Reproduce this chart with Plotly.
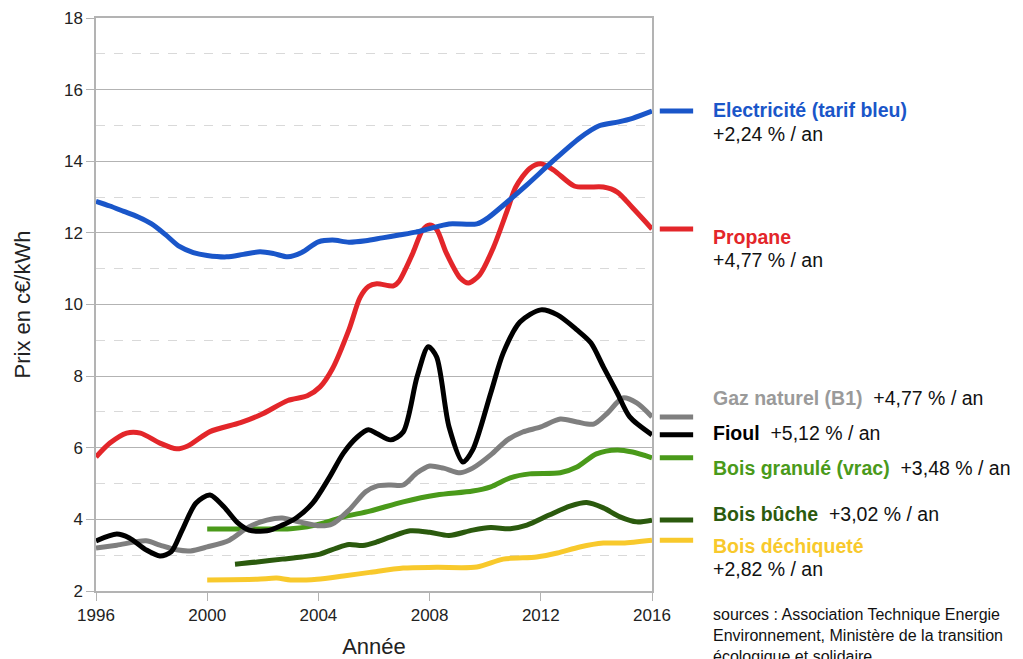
import plotly.graph_objects as go

# ---- data ----
elec_x = [1996, 1996.5, 1997, 1997.5, 1998, 1998.5, 1999, 1999.5, 2000, 2000.7, 2001.3, 2001.9, 2002.4, 2002.9,
          2003.4, 2004.0, 2004.5, 2005.1, 2005.7, 2006.3, 2006.9, 2007.5, 2008.0, 2008.7, 2009.7, 2010.1, 2010.8,
          2011.5, 2012.4, 2013.4, 2014.1, 2014.8, 2015.3, 2016]
elec_y = [12.88, 12.75, 12.6, 12.45, 12.25, 11.95, 11.62, 11.45, 11.37, 11.33, 11.4, 11.47, 11.42, 11.33,
          11.45, 11.75, 11.8, 11.74, 11.78, 11.86, 11.94, 12.02, 12.12, 12.25, 12.25, 12.42, 12.87,
          13.34, 13.98, 14.65, 14.99, 15.1, 15.2, 15.4]

prop_x = [1996, 1996.5, 1997.1, 1997.6, 1998.3, 1998.9, 1999.3, 2000.1, 2001.2, 2002.0, 2002.9, 2003.6, 2004.06,
          2004.5, 2005.1, 2005.5, 2005.8, 2006.1, 2006.7, 2006.9, 2007.4, 2007.75, 2008.0, 2008.25, 2008.6,
          2009.1, 2009.4, 2009.8, 2010.3, 2010.8, 2011.1, 2011.6, 2012.0, 2012.45, 2013.2, 2013.7, 2014.25,
          2014.75, 2015.3, 2016]
prop_y = [5.74, 6.13, 6.41, 6.41, 6.13, 5.97, 6.05, 6.45, 6.7, 6.95, 7.32, 7.45, 7.7,
          8.2, 9.3, 10.2, 10.5, 10.58, 10.52, 10.65, 11.44, 12.08, 12.22, 12.1, 11.44,
          10.74, 10.6, 10.83, 11.6, 12.64, 13.28, 13.8, 13.93, 13.76, 13.31, 13.28, 13.28,
          13.14, 12.7, 12.11]

fioul_x = [1996, 1996.75, 1997.2, 1997.8, 1998.3, 1998.7, 1999.1, 1999.6, 2000.1, 2000.6, 2001.1, 2001.5, 2002.15,
           2002.7, 2003.2, 2003.8, 2004.4, 2004.9, 2005.4, 2005.8, 2006.1, 2006.6, 2007.05, 2007.55, 2007.95,
           2008.25, 2008.7, 2009.2, 2009.55, 2010.2, 2010.65, 2011.25, 2012.0, 2012.6, 2013.3, 2013.8, 2014.25,
           2014.75, 2015.2, 2016]
fioul_y = [3.4, 3.59, 3.48, 3.15, 2.98, 3.09, 3.7, 4.46, 4.68, 4.35, 3.9, 3.7, 3.68,
           3.84, 4.04, 4.46, 5.18, 5.85, 6.3, 6.5, 6.4, 6.22, 6.44, 7.98, 8.82,
           8.54, 6.58, 5.6, 5.94, 7.53, 8.65, 9.51, 9.85, 9.71, 9.29, 8.93, 8.26,
           7.53, 6.86, 6.36]

gaz_x = [1996, 1996.75, 1997.8, 1998.3, 1998.9, 1999.4, 2000.0, 2000.8, 2001.5, 2002.15, 2002.7, 2003.3, 2004.06,
         2004.5, 2005.1, 2005.7, 2006.1, 2006.6, 2007.05, 2007.55, 2008.0, 2008.5, 2009.1, 2009.55, 2010.2,
         2010.8, 2011.35, 2012.0, 2012.7, 2013.3, 2013.9, 2014.4, 2014.95, 2015.45, 2016]
gaz_y = [3.2, 3.28, 3.4, 3.28, 3.15, 3.12, 3.23, 3.42, 3.79, 3.98, 4.04, 3.93, 3.82,
         3.87, 4.26, 4.77, 4.93, 4.96, 4.96, 5.3, 5.49, 5.43, 5.3, 5.43, 5.8,
         6.22, 6.44, 6.58, 6.8, 6.72, 6.66, 6.97, 7.39, 7.25, 6.86]

gran_x = [2000, 2001, 2002, 2003.0, 2003.6, 2004.2, 2004.9, 2005.85, 2007.05, 2008.25, 2009.55, 2010.2, 2010.9,
          2011.6, 2012.7, 2013.3, 2014.0, 2014.75, 2015.3, 2016]
gran_y = [3.73, 3.73, 3.73, 3.74, 3.79, 3.9, 4.07, 4.23, 4.49, 4.68, 4.79, 4.91, 5.16,
          5.27, 5.3, 5.46, 5.83, 5.94, 5.88, 5.72]

buche_x = [2001, 2001.8, 2002.7, 2003.4, 2004.06, 2004.65, 2005.1, 2005.6, 2006.1, 2006.6, 2007.3, 2008.0, 2008.7,
           2009.55, 2010.2, 2010.9, 2011.5, 2012.3, 2013.05, 2013.65, 2014.25, 2014.85, 2015.45, 2016]
buche_y = [2.75, 2.81, 2.89, 2.95, 3.03, 3.2, 3.3, 3.27, 3.37, 3.51, 3.68, 3.64, 3.55,
           3.7, 3.77, 3.74, 3.84, 4.12, 4.37, 4.47, 4.32, 4.07, 3.93, 3.98]

dech_x = [2000, 2001.8, 2002.5, 2003.0, 2003.95, 2004.9, 2005.85, 2007.05, 2008.25, 2009.7, 2010.65, 2011.85,
          2012.6, 2013.4, 2014.25, 2014.95, 2016]
dech_y = [2.31, 2.33, 2.36, 2.31, 2.33, 2.42, 2.52, 2.64, 2.66, 2.67, 2.89, 2.95,
          3.06, 3.23, 3.34, 3.34, 3.42]

x_ticks = [1996, 2000, 2004, 2008, 2012, 2016]
y_ticks = [2, 4, 6, 8, 10, 12, 14, 16, 18]

FONT = "Liberation Sans, Arial, sans-serif"

series = [
    ("Electricité (tarif bleu)", elec_x, elec_y, "#1a56c9"),
    ("Propane", prop_x, prop_y, "#e3262a"),
    ("Gaz naturel (B1)", gaz_x, gaz_y, "#7f7f7f"),
    ("Fioul", fioul_x, fioul_y, "#000000"),
    ("Bois granulé (vrac)", gran_x, gran_y, "#4a9a1a"),
    ("Bois bûche", buche_x, buche_y, "#2b5a0e"),
    ("Bois déchiqueté", dech_x, dech_y, "#f8c92c"),
]

fig = go.Figure()
order = [6, 5, 4, 2, 3, 1, 0]
for i in order:
    name, xs, ys, col = series[i]
    fig.add_trace(go.Scatter(x=xs, y=ys, mode="lines", name=name,
                             line=dict(color=col, width=5, shape="spline", smoothing=0.8),
                             showlegend=False, hoverinfo="skip"))

# short legend dashes at the end of each series
for name, xs, ys, col in series:
    fig.add_shape(type="line", xref="paper", yref="y", x0=1.014, x1=1.074, y0=ys[-1], y1=ys[-1],
                  line=dict(color=col, width=5))

def ann(text, y, yref="y", size=19.5, yanchor="middle"):
    fig.add_annotation(text=text, xref="paper", x=1.106, xanchor="left", yref=yref, y=y,
                       yanchor=yanchor, showarrow=False, align="left",
                       font=dict(family=FONT, size=size, color="#111111"))

ann("<b><span style='color:#1a56c9'>Electricité (tarif bleu)</span></b>", 15.44)
ann("+2,24 % / an", 14.77)
ann("<b><span style='color:#e3262a'>Propane</span></b>", 11.89)
ann("+4,77 % / an", 11.25)
ann("<b><span style='color:#9a9a9a'>Gaz naturel (B1)</span></b>  +4,77 % / an", 7.39)
ann("<b><span style='color:#000000'>Fioul</span></b>  +5,12 % / an", 6.41)
ann("<b><span style='color:#4a9a1a'>Bois granulé (vrac)</span></b>  +3,48 % / an", 5.44)
ann("<b><span style='color:#2b5a0e'>Bois bûche</span></b>  +3,02 % / an", 4.15)
ann("<b><span style='color:#f8c92c'>Bois déchiqueté</span></b>", 3.26)
ann("+2,82 % / an", 2.61)
ann("sources : Association Technique Energie<br>Environnement, Ministère de la transition<br>écologique et solidaire",
    -0.022, yref="paper", size=16, yanchor="top")

fig.update_layout(
    width=1015, height=651,
    margin=dict(l=88, r=371, t=10, b=68),
    paper_bgcolor="white", plot_bgcolor="white",
    font=dict(family=FONT, size=17, color="#222222"),
    xaxis=dict(range=[1996, 2016], tickvals=x_ticks, ticktext=[str(v) for v in x_ticks],
               automargin=False,
               showgrid=False, zeroline=False, showline=True, linecolor="#b3b3b3", linewidth=1.5,
               mirror=True, ticks="outside", ticklen=8, tickcolor="#b3b3b3",
               tickfont=dict(family=FONT, size=17, color="#222222"),
               title=dict(text="Année", font=dict(family=FONT, size=22, color="#222222"), standoff=24)),
    yaxis=dict(range=[2, 18], tickvals=y_ticks, showgrid=True, gridcolor="#b3b3b3", gridwidth=1.2,
               automargin=False,
               zeroline=False, showline=True, linecolor="#b3b3b3", linewidth=1.5, mirror=True,
               ticks="outside", ticklen=8, tickcolor="#b3b3b3",
               tickfont=dict(family=FONT, size=17, color="#222222"),
               minor=dict(dtick=1, showgrid=True, gridcolor="#d9d9d9", griddash="dash", gridwidth=1),
               title=dict(text="Prix en c€/kWh", font=dict(family=FONT, size=22, color="#222222"), standoff=27)),
)

fig.write_html("out.html")
